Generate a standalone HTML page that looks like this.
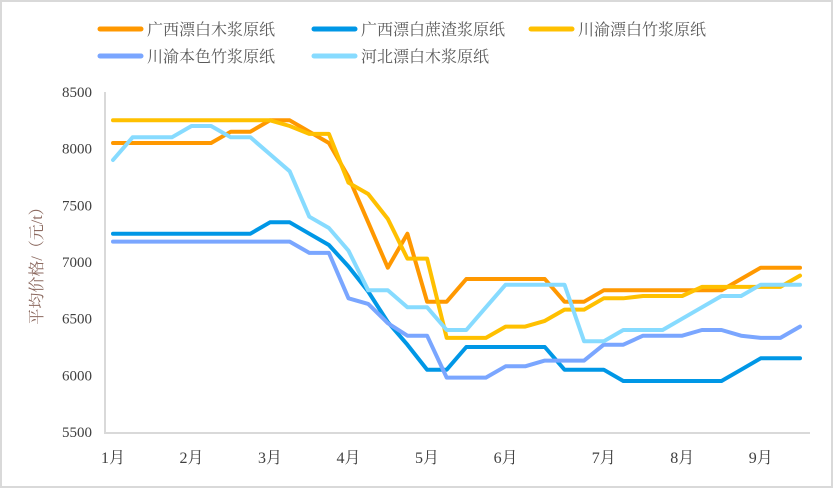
<!DOCTYPE html>
<html><head><meta charset="utf-8"><style>
html,body{margin:0;padding:0;background:#fff;}
svg{display:block;}
text{font-family:"Liberation Serif","Noto Serif CJK SC","Noto Sans CJK SC",serif;}
</style></head><body>
<svg id="chart" width="833" height="500" viewBox="0 0 833 500">
<rect x="1" y="1" width="831" height="486" fill="#fff" stroke="#d9d9d9" stroke-width="2"/>
<g id="legend"></g>
<g id="yaxis"></g>
<g id="xaxis"></g>
<g id="series"></g>
<text x="42" y="262" transform="rotate(-90 42 262)" text-anchor="middle" font-size="16" fill="#8c6a60">平均价格/（元/t）</text>
</svg>
<script>
const monthLabels = ["1月","2月","3月","4月","5月","6月","7月","8月","9月"];
const monthIndex = [0,4,8,12,16,20,25,29,33];
const yTicks = [5500,6000,6500,7000,7500,8000,8500];
const seriesNames = ["广西漂白木浆原纸","广西漂白蔗渣浆原纸","川渝漂白竹浆原纸","川渝本色竹浆原纸","河北漂白木浆原纸"];
const gxWood = [8050,8050,8050,8050,8050,8050,8150,8150,8250,8250,8150,8050,7750,7350,6950,7250,6650,6650,6850,6850,6850,6850,6850,6650,6650,6750,6750,6750,6750,6750,6750,6750,6850,6950,6950,6950];
const gxBagasse = [7250,7250,7250,7250,7250,7250,7250,7250,7350,7350,7250,7150,6960,6740,6470,6270,6050,6050,6250,6250,6250,6250,6250,6050,6050,6050,5950,5950,5950,5950,5950,5950,6050,6150,6150,6150];
const cyBamboo = [8250,8250,8250,8250,8250,8250,8250,8250,8250,8200,8130,8130,7700,7600,7380,7030,7030,6330,6330,6330,6430,6430,6480,6580,6580,6680,6680,6700,6700,6700,6780,6780,6780,6780,6780,6880];
const cyNatural = [7180,7180,7180,7180,7180,7180,7180,7180,7180,7180,7080,7080,6680,6630,6460,6350,6350,5980,5980,5980,6080,6080,6130,6130,6130,6270,6270,6350,6350,6350,6400,6400,6350,6330,6330,6430];
const hbWood = [7900,8100,8100,8100,8200,8200,8100,8100,7950,7800,7400,7300,7100,6750,6750,6600,6600,6400,6400,6600,6800,6800,6800,6800,6300,6300,6400,6400,6400,6500,6600,6700,6700,6800,6800,6800];

const NS="http://www.w3.org/2000/svg";
const colors=["#ff9800","#0097e6","#ffc000","#7aa6ff","#87dbff"];
const allSeries=[gxWood,gxBagasse,cyBamboo,cyNatural,hbWood];
const seriesKeys=["gx-wood","gx-bagasse","cy-bamboo","cy-natural","hb-wood"];
const x0=113,x1=800,yTop=92,yBot=432,vMin=5500,vMax=8500;
const n=gxWood.length;
function xs(i){return x0+(x1-x0)*i/(n-1);}
function ys(v){return yBot-(v-vMin)/(vMax-vMin)*(yBot-yTop);}
function mk(tag,attrs,parent,txt){const e=document.createElementNS(NS,tag);for(const k in attrs)e.setAttribute(k,attrs[k]);if(txt!==undefined)e.textContent=txt;parent.appendChild(e);return e;}

const yg=document.getElementById('yaxis');
const ax=mk('line',{x1:105,y1:yTop,x2:105,y2:yBot+1,stroke:'#d9d9d9','stroke-width':2},yg);


yTicks.forEach(v=>{
  const t=mk('text',{x:92,y:ys(v)+5,'text-anchor':'end','font-size':15,fill:'#404040'},yg,String(v));
  
  
});
const xg=document.getElementById('xaxis');
const bx=mk('line',{x1:104,y1:yBot+1,x2:810,y2:yBot+1,stroke:'#d9d9d9','stroke-width':2},xg);


monthLabels.forEach((m,k)=>{
  const t=mk('text',{x:xs(monthIndex[k]),y:463,'text-anchor':'middle','font-size':16,fill:'#404040'},xg,m);
  
  
});
const sg=document.getElementById('series');
allSeries.forEach((d,s)=>{
  const pts=d.map((v,i)=>xs(i).toFixed(1)+','+ys(v).toFixed(1)).join(' ');
  const p=mk('polyline',{points:pts,fill:'none',stroke:colors[s],'stroke-width':4,'stroke-linejoin':'round','stroke-linecap':'round'},sg);
  
  
});
const lg=document.getElementById('legend');
const lpos=[[100,29],[314,29],[531,29],[100,56],[314,56]];
seriesNames.forEach((nm,s)=>{
  const g=mk('g',{},lg);
  
  
  const [lx,ly]=lpos[s];
  mk('line',{x1:lx,y1:ly,x2:lx+41,y2:ly,stroke:colors[s],'stroke-width':5,'stroke-linecap':'round'},g);
  mk('text',{x:lx+47,y:ly+6,'font-size':16,fill:'#595959'},g,nm);
});
</script>
</body></html>
